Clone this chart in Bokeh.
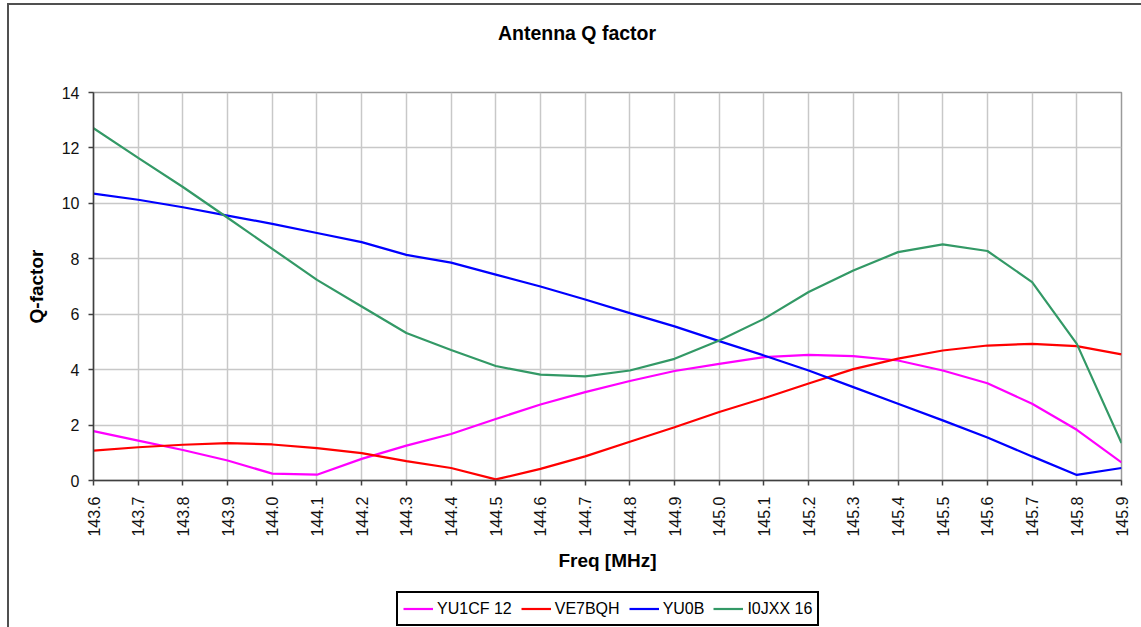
import math
from bokeh.plotting import figure
from bokeh.layouts import column
from bokeh.models import (Range1d, FixedTicker, NumeralTickFormatter, Legend, LegendItem, Label)
from bokeh.embed import file_html
from bokeh.resources import INLINE

# ---- data ----
freq = [143.6, 143.7, 143.8, 143.9, 144.0, 144.1, 144.2, 144.3, 144.4, 144.5, 144.6, 144.7,
        144.8, 144.9, 145.0, 145.1, 145.2, 145.3, 145.4, 145.5, 145.6, 145.7, 145.8, 145.9]
yu1cf_12 = [1.78, 1.44, 1.10, 0.72, 0.25, 0.21, 0.78, 1.26, 1.68, 2.22, 2.74, 3.19,
            3.59, 3.95, 4.21, 4.45, 4.53, 4.49, 4.33, 3.97, 3.51, 2.77, 1.83, 0.65]
ve7bqh = [1.08, 1.20, 1.29, 1.35, 1.30, 1.17, 0.99, 0.70, 0.45, 0.04, 0.42, 0.87,
          1.40, 1.92, 2.47, 2.97, 3.50, 4.02, 4.40, 4.69, 4.87, 4.93, 4.85, 4.55]
yu0b = [10.35, 10.13, 9.86, 9.56, 9.26, 8.93, 8.60, 8.14, 7.86, 7.43, 7.00, 6.53,
        6.04, 5.56, 5.03, 4.51, 3.97, 3.37, 2.77, 2.17, 1.55, 0.87, 0.20, 0.45]
i0jxx_16 = [12.71, 11.64, 10.59, 9.48, 8.36, 7.24, 6.28, 5.32, 4.71, 4.13, 3.82, 3.76,
            3.97, 4.39, 5.05, 5.83, 6.80, 7.58, 8.24, 8.52, 8.28, 7.16, 4.93, 1.35]
series = [yu1cf_12, ve7bqh, yu0b, i0jxx_16]
series_names = ["YU1CF 12", "VE7BQH", "YU0B", "I0JXX 16"]
series_colors = ["#ff00ff", "#ff0000", "#0000ff", "#339966"]
y_ticks = [0, 2, 4, 6, 8, 10, 12, 14]
title_text = "Antenna Q factor"

FONT = "Liberation Sans"
W = 1141
FRAME_L, FRAME_R = 93, 1121   # frame edges shared by all strips (column aligns them)

# ---------- title strip ----------
p0 = figure(width=W, height=60, output_backend="svg", toolbar_location=None, title=None,
            x_range=Range1d(FRAME_L, FRAME_R), y_range=Range1d(60, 0),
            x_axis_location=None, y_axis_location=None, min_border=0,
            min_border_left=FRAME_L, min_border_right=W - FRAME_R,
            background_fill_color=None, border_fill_color=None)
p0.outline_line_color = None
p0.grid.visible = False
p0.add_layout(Label(x=576.5, y=32, text=title_text, text_align="center",
                    text_baseline="alphabetic", text_font=FONT, text_font_size="19.5px",
                    text_font_style="bold", text_color="#000000"))

# ---------- main chart ----------
p = figure(width=W, height=520, output_backend="svg", toolbar_location=None,
           x_range=Range1d(143.6, 145.9), y_range=Range1d(0, 14),
           min_border_left=FRAME_L, min_border_right=W - FRAME_R,
           min_border_top=32, min_border_bottom=100,
           background_fill_color="white", border_fill_color=None)

p.outline_line_color = "#9a9a9a"
p.outline_line_width = 1.5
p.xgrid.ticker = FixedTicker(ticks=freq)
p.ygrid.ticker = FixedTicker(ticks=y_ticks)
p.grid.grid_line_color = "#c8c8c8"
p.grid.grid_line_width = 1.5

p.xaxis.ticker = FixedTicker(ticks=freq)
p.xaxis.formatter = NumeralTickFormatter(format="0.0")
p.xaxis.major_label_orientation = math.pi / 2
p.yaxis.ticker = FixedTicker(ticks=y_ticks)
for ax in (p.xaxis[0], p.yaxis[0]):
    ax.axis_line_color = "#404040"
    ax.axis_line_width = 1.5
    ax.major_tick_line_color = "#404040"
    ax.major_tick_line_width = 1.5
    ax.major_tick_out = 5
    ax.major_tick_in = 0
    ax.minor_tick_line_color = None
    ax.major_label_text_font = FONT
    ax.major_label_text_font_size = "16px"
    ax.major_label_text_color = "#111111"
    ax.axis_label_text_font = FONT
    ax.axis_label_text_font_size = "19px"
    ax.axis_label_text_font_style = "bold"
    ax.axis_label_text_color = "#000000"
p.xaxis.axis_label = "Freq [MHz]"
p.yaxis.axis_label = "Q-factor"
p.xaxis.major_label_standoff = 11
p.xaxis.axis_label_standoff = 10
p.yaxis.major_label_standoff = 9
p.yaxis.axis_label_standoff = 12

for vals, col in zip(series, series_colors):
    p.line(freq, vals, line_color=col, line_width=2.2)

# ---------- legend strip ----------
# key renderers reuse the series data, but their range lies far away so only the key shows
p2 = figure(width=W, height=47, output_backend="svg", toolbar_location=None, title=None,
            x_range=Range1d(0, 1), y_range=Range1d(-100, -99),
            x_axis_location=None, y_axis_location=None, min_border=0,
            min_border_left=FRAME_L, min_border_right=W - FRAME_R,
            background_fill_color=None, border_fill_color=None)
p2.outline_line_color = None
p2.grid.visible = False
key_renderers = [p2.line(freq, vals, line_color=c, line_width=2.2)
                 for vals, c in zip(series, series_colors)]
legend = Legend(items=[LegendItem(label=n, renderers=[r]) for n, r in zip(series_names, key_renderers)],
                location=(303, 1), orientation="horizontal",
                label_text_font=FONT, label_text_font_size="16px", label_text_color="#000000",
                glyph_width=30, glyph_height=21, label_height=21, label_standoff=4,
                spacing=9, padding=5, margin=0,
                border_line_color="#000000", border_line_width=2, border_line_alpha=1.0,
                background_fill_color="white", background_fill_alpha=1.0)
p2.add_layout(legend)

layout = column(p0, p, p2, spacing=0)
# outer chart border (left and top edges visible in the reference)
layout.styles = {
    "background": "linear-gradient(#505050,#505050) 7px 3px / 2px 100% no-repeat, "
                  "linear-gradient(#505050,#505050) 7px 3px / 100% 2px no-repeat, white"
}

open("out.html", "w").write(file_html(layout, INLINE))
